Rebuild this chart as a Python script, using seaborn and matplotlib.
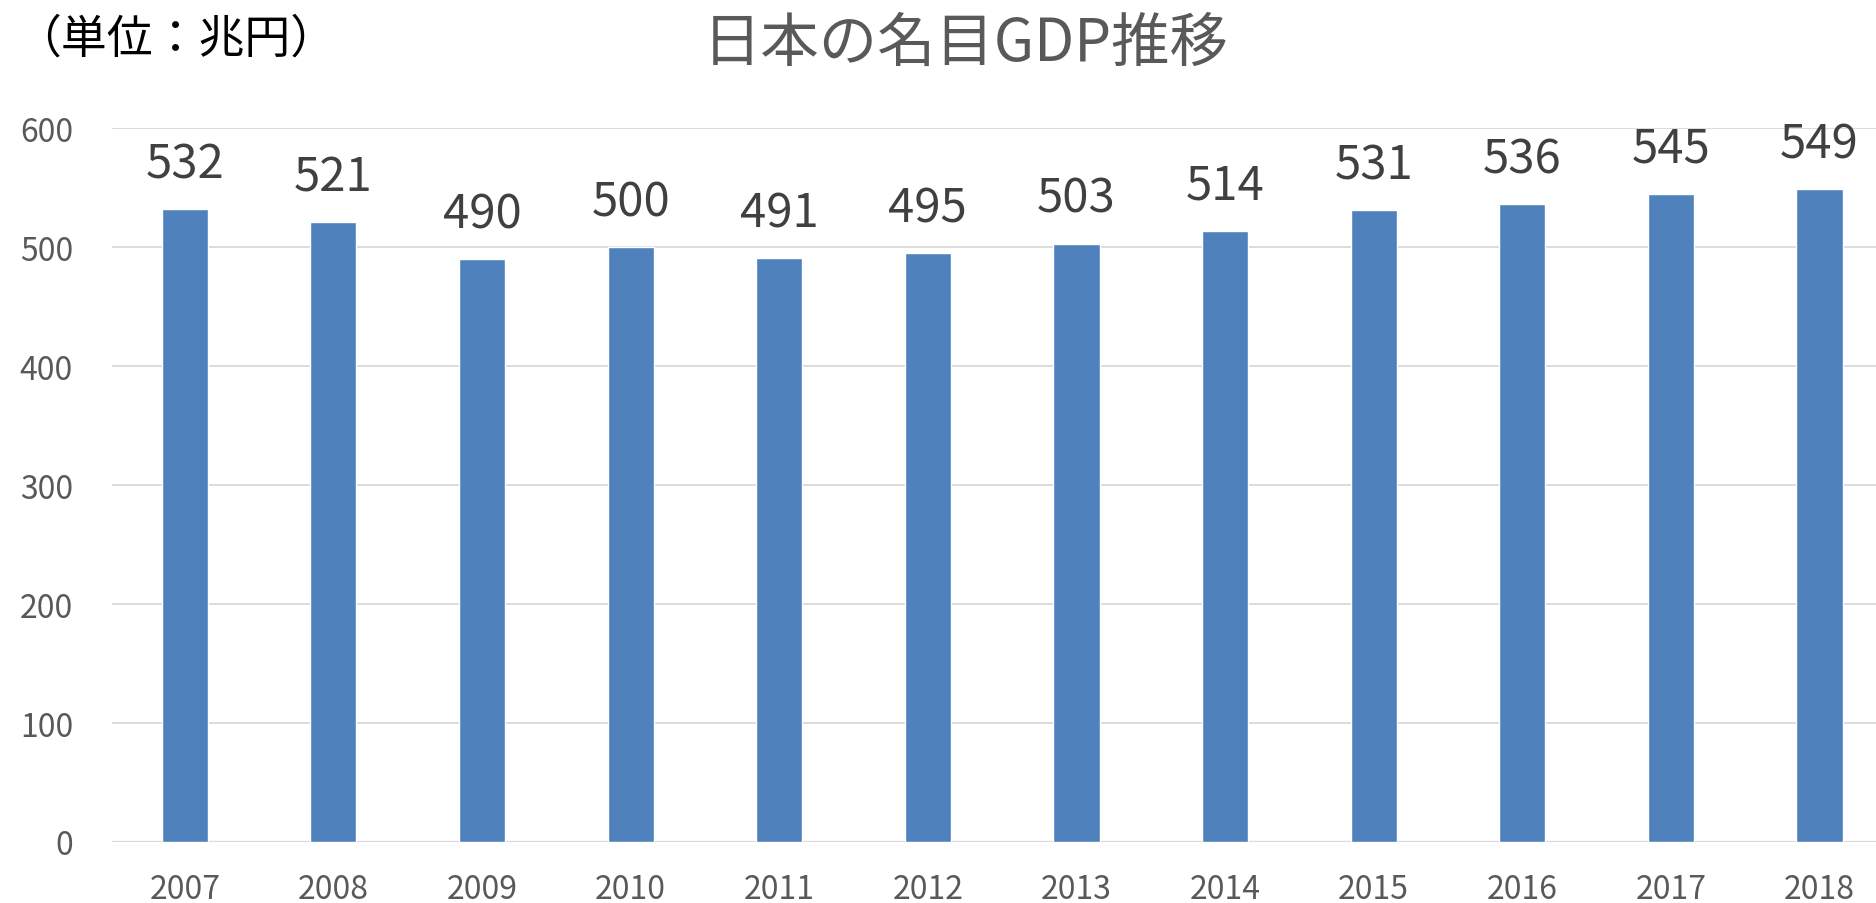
import matplotlib
matplotlib.use("Agg")
import matplotlib.pyplot as plt
import seaborn as sns
import pandas as pd

years = ["2007", "2008", "2009", "2010", "2011", "2012",
         "2013", "2014", "2015", "2016", "2017", "2018"]
gdp = [532, 521, 490, 500, 491, 495, 503, 514, 531, 536, 545, 549]
y_ticks = [0, 100, 200, 300, 400, 500, 600]

title = "日本の名目GDP推移"
unit_label = "（単位：兆円）"

sns.set_style("white")
plt.rcParams['font.family'] = ['Noto Sans CJK JP', 'DejaVu Sans']

df = pd.DataFrame({"year": years, "gdp": gdp})

fig = plt.figure(figsize=(18.76, 9.04), dpi=100)
ax = fig.add_axes([0.0597, 0.0675, 0.9403, 0.7895])

sns.barplot(data=df, x="year", y="gdp", color="#4F81BD", saturation=1,
            width=0.31, ax=ax, zorder=3)

ax.set_xlim(-0.49, 11.38)
ax.set_ylim(0, 600)
ax.set_yticks(y_ticks)
ax.yaxis.grid(True, color="#D9D9D9", linewidth=1.3, zorder=0)
ax.set_axisbelow(True)
for s in ax.spines.values():
    s.set_visible(False)
ax.axhline(0, color="#D9D9D9", linewidth=1.6, zorder=1)

ax.set_xlabel("")
ax.set_ylabel("")
ax.tick_params(axis="both", length=0, labelcolor="#595959", labelsize=23)
ax.tick_params(axis="y", pad=28)
ax.tick_params(axis="x", pad=22)

ax.bar_label(ax.containers[0], labels=[str(v) for v in gdp], padding=15,
             fontsize=34, color="#404040")

fig.text(0.515, 0.951, title, ha="center", va="center", fontsize=42, color="#595959")
fig.text(0.008, 0.957, unit_label, ha="left", va="center", fontsize=33, color="black")

fig.savefig("out.png", dpi=100)
